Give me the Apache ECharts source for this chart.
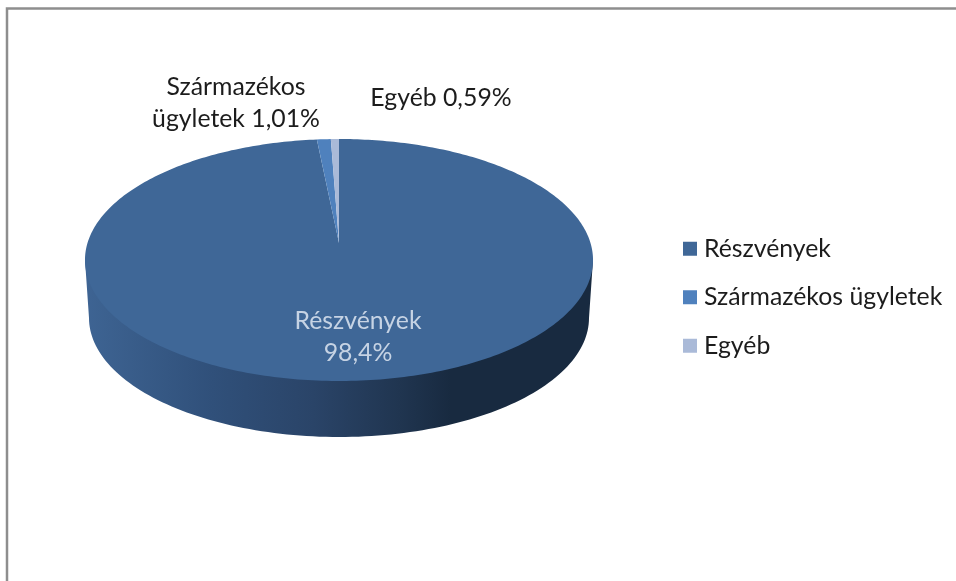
<!DOCTYPE html>
<html>
<head>
<meta charset="utf-8">
<style>
html, body { margin: 0; padding: 0; background: #fff; }
#chart { width: 956px; height: 581px; }
</style>
<script src="https://cdn.jsdelivr.net/npm/echarts@6/dist/echarts.min.js"></script>
</head>
<body>
<div id="chart"></div>
<script>
let categories = ['Részvények', 'Származékos ügyletek', 'Egyéb'];
let values = [98.4, 1.01, 0.59];
let value_labels = ['98,4%', '1,01%', '0,59%'];
let colors = ['#3f6797', '#4f81bd', '#aabad8'];

let font = 'Lato, "Noto Sans", sans-serif';
let font_size = 24.8;
// 透视投影 圆心投到 apex_y 后面压缩
let top_face = { cx: 339, apex_y: 243, a: 251.5, b: 118.6, k: 0.1405, left: 85, right: 593, mid_y: 260 };
let bottom_face = { cx: 339, cy: 318, rx: 250, ry: 119 };

// 角度从12点钟方向顺时针
function top_point(angle) {
	let w = 1 + top_face.k * Math.cos(angle);
	return [top_face.cx + (top_face.a * Math.sin(angle)) / w, top_face.apex_y - (top_face.b * Math.cos(angle)) / w];
}
function slice_points(index) {
	let total = values.reduce((a, b) => a + b, 0);
	let before = values.slice(0, index).reduce((a, b) => a + b, 0);
	let start = (before / total) * Math.PI * 2;
	let end = ((before + values[index]) / total) * Math.PI * 2;
	let steps = Math.max(2, Math.ceil((end - start) * 60));
	let points = [[top_face.cx, top_face.apex_y]];
	for (let i = 0; i <= steps; i++) {
		points.push(top_point(start + ((end - start) * i) / steps));
	}
	return points;
}
// 侧面 只画前半圈 上边藏在顶面下面
function side_points() {
	let points = [[top_face.right, top_face.mid_y]];
	for (let i = 0; i <= 120; i++) {
		let angle = Math.PI / 2 + (Math.PI * i) / 120;
		points.push([bottom_face.cx + bottom_face.rx * Math.sin(angle), bottom_face.cy - bottom_face.ry * Math.cos(angle)]);
	}
	points.push([top_face.left, top_face.mid_y]);
	return points;
}
function side_gradient() {
	return new echarts.graphic.LinearGradient(0, 0, 1, 0, [
		{ offset: 0, color: '#3e6493' },
		{ offset: 0.25, color: '#30507a' },
		{ offset: 0.45, color: '#2a4468' },
		{ offset: 0.62, color: '#203550' },
		{ offset: 0.72, color: '#182a40' },
		{ offset: 1, color: '#182a40' },
	]);
}

let series = [];
categories.forEach((name, index) => {
	series.push({
		type: 'custom',
		name: name,
		coordinateSystem: 'none',
		data: [values[index]],
		itemStyle: { color: colors[index] },
		silent: true,
		animation: false,
		renderItem: () => {
			let children = [];
			if (index === 0) {
				children.push({
					type: 'polygon',
					shape: { points: side_points() },
					style: { fill: side_gradient() },
				});
			}
			children.push({
				type: 'polygon',
				shape: { points: slice_points(index) },
				style: { fill: colors[index] },
			});
			return { type: 'group', children: children };
		},
	});
});

let chart = echarts.init(document.getElementById('chart'), null, { renderer: 'canvas' });
chart.setOption({
	backgroundColor: '#fff',
	animation: false,
	legend: {
		orient: 'vertical',
		left: 678,
		top: 229,
		itemWidth: 14,
		itemHeight: 14,
		itemGap: 19,
		icon: 'rect',
		data: categories,
		selectedMode: false,
		textStyle: { fontFamily: font, fontSize: font_size, color: '#1c1c1c', lineHeight: 29.5, padding: [0, 0, 0, 2] },
	},
	graphic: [
		{
			type: 'rect',
			shape: { x: 7, y: 8.5, width: 1000, height: 640 },
			style: { fill: 'none', stroke: '#8e8e8e', lineWidth: 2.5 },
			z: -1,
		},
		{
			type: 'text',
			x: 236,
			y: 71,
			style: { text: 'Származékos\nügyletek ' + value_labels[1], fontFamily: font, fontSize: font_size, lineHeight: 32, fill: '#1c1c1c', align: 'center' },
		},
		{
			type: 'text',
			x: 441,
			y: 84,
			style: { text: categories[2] + ' ' + value_labels[2], fontFamily: font, fontSize: font_size, lineHeight: 29, fill: '#1c1c1c', align: 'center' },
		},
		{
			type: 'text',
			x: 358,
			y: 305,
			z: 10,
			style: { text: categories[0] + '\n' + value_labels[0], fontFamily: font, fontSize: font_size, lineHeight: 32, fill: '#c6d3e4', align: 'center' },
		},
	],
	series: series,
});
</script>
</body>
</html>
